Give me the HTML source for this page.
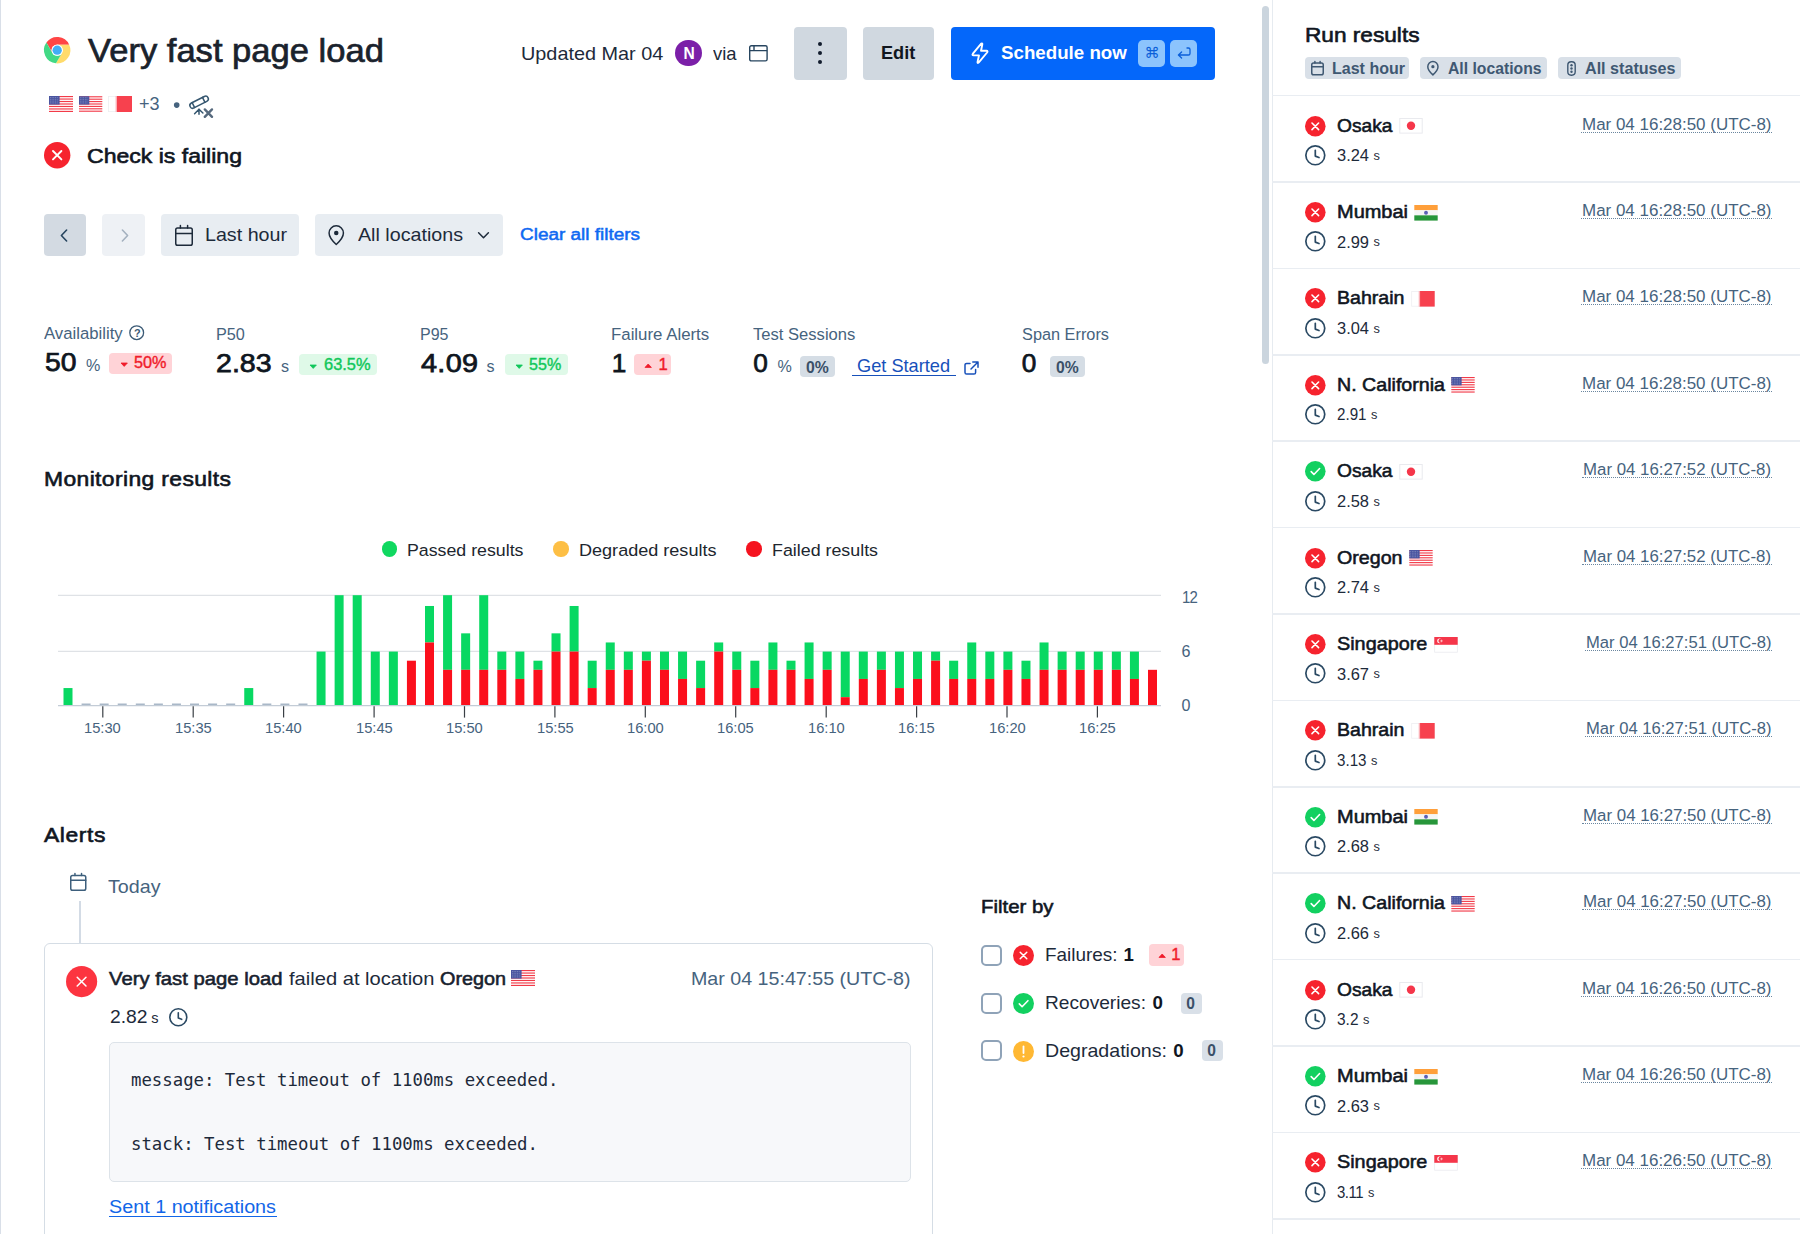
<!DOCTYPE html><html lang="en"><head><meta charset="utf-8"><title>Very fast page load - Synthetics</title><style>
*{box-sizing:border-box}
html,body{margin:0;padding:0}
body{width:1800px;height:1234px;overflow:hidden;background:#fff;position:relative;
 font-family:"Liberation Sans",Arial,sans-serif;color:#111c2c;}
.t{position:absolute;white-space:pre;line-height:1;transform-origin:0 50%;}
.abs{position:absolute}
svg{position:absolute;overflow:visible}
.btn{position:absolute;border-radius:4px}
.badge{position:absolute;border-radius:4px}
.sep{position:absolute;left:1272px;width:528px;height:1.6px;background:#e9edf2}
.u{text-decoration:underline}
</style></head><body>
<div class="abs" style="left:0;top:0;width:1.2px;height:1234px;background:#d9dfe8"></div>
<svg style="left:43.7px;top:36.9px" width="26.4" height="26.4" viewBox="-50 -50 100 100"><circle r="49" fill="#fff"/><path d="M-40.88 -28.8A50 50 0 0 1 45.38 -21L0 -21A21 21 0 0 0 -18.19 10.5Z" fill="#ff4545"/><path d="M45.38 -21A50 50 0 0 1 -4.5 49.8L18.19 10.5A21 21 0 0 0 0 -21Z" fill="#ffdb6b"/><path d="M-4.5 49.8A50 50 0 0 1 -40.88 -28.8L-18.19 10.5A21 21 0 0 0 18.19 10.5Z" fill="#42d985"/><circle r="21.5" fill="#fff"/><circle r="17.6" fill="#42adf5"/></svg>
<span class="t" style="left:87.5px;top:34.5px;font-size:32.45px;-webkit-text-stroke:0.68px #1a222c;color:#1a222c;transform:scaleX(1.0658);">Very fast page load</span>
<svg style="left:49.0px;top:96.0px" width="24" height="16" viewBox="0 0 24 16"><rect width="24" height="16" fill="#fff"/><rect y="0.000" width="24" height="1.15" fill="#f23a48"/><rect y="2.475" width="24" height="1.15" fill="#f23a48"/><rect y="4.950" width="24" height="1.15" fill="#f23a48"/><rect y="7.425" width="24" height="1.15" fill="#f23a48"/><rect y="9.900" width="24" height="1.15" fill="#f23a48"/><rect y="12.375" width="24" height="1.15" fill="#f23a48"/><rect y="14.850" width="24" height="1.15" fill="#f23a48"/><rect width="10.6" height="8.6" fill="#4a55a0"/><path d="M1 1.5h8.6M1 3.3h8.6M1 5.1h8.6M1 6.9h8.6" stroke="#9aa0cc" stroke-width=".7" stroke-dasharray=".8 .9"/></svg>
<svg style="left:78.8px;top:96.0px" width="23.3" height="16" viewBox="0 0 24 16"><rect width="24" height="16" fill="#fff"/><rect y="0.000" width="24" height="1.15" fill="#f23a48"/><rect y="2.475" width="24" height="1.15" fill="#f23a48"/><rect y="4.950" width="24" height="1.15" fill="#f23a48"/><rect y="7.425" width="24" height="1.15" fill="#f23a48"/><rect y="9.900" width="24" height="1.15" fill="#f23a48"/><rect y="12.375" width="24" height="1.15" fill="#f23a48"/><rect y="14.850" width="24" height="1.15" fill="#f23a48"/><rect width="10.6" height="8.6" fill="#4a55a0"/><path d="M1 1.5h8.6M1 3.3h8.6M1 5.1h8.6M1 6.9h8.6" stroke="#9aa0cc" stroke-width=".7" stroke-dasharray=".8 .9"/></svg>
<svg style="left:107.8px;top:96.0px" width="24" height="16" viewBox="0 0 24 16"><rect x=".4" y=".4" width="23.2" height="15.2" fill="#fff" stroke="#eeeef1" stroke-width=".8"/><rect x="8.6" width="15.4" height="16" fill="#f7414e"/><rect x="7.6" width="1.4" height="16" fill="#fbb0b6"/></svg>
<span class="t" style="left:138.7px;top:95.3px;font-size:18.2px;color:#46637e;transform:scaleX(0.9928);">+3</span>
<svg style="left:172px;top:100px" width="10" height="10" viewBox="0 0 10 10"><circle cx="4.7" cy="5.1" r="2.8" fill="#46637e"/></svg>
<svg style="left:188px;top:94px" width="26" height="25" viewBox="0 0 26 25" fill="none" stroke="#35566f" stroke-width="1.5" stroke-linecap="round" stroke-linejoin="round"><g transform="translate(11.1 8.2) rotate(-27)"><rect x="-10" y="-2.75" width="20" height="5.5" rx="2.75"/><path d="M5.2 -2.75V2.75M-6.4 -2.75V2.75"/></g><path d="M11 15.2V20.2M11 15.2L6.6 19.8M11 15.2L14.9 19"/><path d="M16.8 15.4l7.2 7.4M24 15.4l-7.2 7.4" stroke="#56697d" stroke-width="2.4"/></svg>
<svg style="left:43.7px;top:142.0px" width="26.4" height="26.4" viewBox="-13.2 -13.2 26.4 26.4"><circle cx="0" cy="0" r="13.2" fill="#f6232e"/><path d="M-4.2 -4.2L4.2 4.2M4.2 -4.2L-4.2 4.2" stroke="#fff" stroke-width="1.9" stroke-linecap="round"/></svg>
<span class="t" style="left:87.3px;top:144.8px;font-size:21.11px;-webkit-text-stroke:0.63px #10161f;color:#10161f;transform:scaleX(1.0918);">Check is failing</span>
<span class="t" style="left:520.9px;top:44.5px;font-size:18.72px;color:#1d2a3a;transform:scaleX(1.0602);">Updated Mar 04</span>
<div class="abs" style="left:675.1px;top:39.9px;width:26.6px;height:26.6px;border-radius:50%;background:#7b1fa8"></div>
<span class="t" style="left:683.4px;top:45.7px;font-size:15.6px;font-weight:700;color:#fff;">N</span>
<span class="t" style="left:713.3px;top:44.5px;font-size:18.72px;color:#1d2a3a;transform:scaleX(0.9865);">via</span>
<svg style="left:748.9px;top:45px" width="18.8" height="16.6" viewBox="0 0 18.8 16.6" fill="none" stroke="#27455f" stroke-width="1.4"><rect x=".7" y=".7" width="17.4" height="15.2" rx="1.6"/><path d="M.7 5.6H18.1M5 .7V5.6"/></svg>
<div class="btn" style="left:793.8px;top:26.7px;width:52.9px;height:52.9px;background:#d0d8e0"></div>
<div class="abs" style="left:818.1px;top:42.2px;width:4.2px;height:4.2px;border-radius:50%;background:#111c2c"></div>
<div class="abs" style="left:818.1px;top:51.0px;width:4.2px;height:4.2px;border-radius:50%;background:#111c2c"></div>
<div class="abs" style="left:818.1px;top:59.8px;width:4.2px;height:4.2px;border-radius:50%;background:#111c2c"></div>
<div class="btn" style="left:863.1px;top:26.7px;width:71.1px;height:52.9px;background:#d0d8e0"></div>
<span class="t" style="left:881.3px;top:44.4px;font-size:18.72px;font-weight:700;color:#10161f;transform:scaleX(0.9709);">Edit</span>
<div class="btn" style="left:951.1px;top:26.7px;width:263.6px;height:52.9px;background:#0467fa"></div>
<svg style="left:969.5px;top:42px" width="20" height="23" viewBox="0 0 20 23" fill="none" stroke="#fff" stroke-width="1.9" stroke-linejoin="round"><path d="M11.2 1.6Q12.6 .9 12.3 2.6L11 8.8H16.4Q18.2 9 17.1 10.5L8.6 20.6Q7.2 21.6 7.6 19.6L9 13.4H3.6Q1.8 13.2 2.9 11.7Z"/></svg>
<span class="t" style="left:1001.3px;top:44.1px;font-size:18.93px;font-weight:700;color:#fff;transform:scaleX(0.9888);">Schedule now</span>
<div class="badge" style="left:1138.2px;top:39.7px;width:27.1px;height:27.1px;border-radius:5px;background:#8cc4fd"></div>
<div class="badge" style="left:1170.3px;top:39.7px;width:27.1px;height:27.1px;border-radius:5px;background:#8cc4fd"></div>
<span class="t" style="left:1144.6px;top:46.4px;font-size:15.18px;color:#0b5fd9;font-family:'DejaVu Sans',sans-serif;">⌘</span>
<svg style="left:1176.8px;top:47.2px" width="14" height="12" viewBox="0 0 14 12" fill="none" stroke="#0b5fd9" stroke-width="1.3" stroke-linecap="round" stroke-linejoin="round"><path d="M10 1H11.4A1.6 1.6 0 0 1 13 2.6V6.4A1.6 1.6 0 0 1 11.4 8H1.6M4.6 5L1.4 8L4.6 11"/></svg>
<div class="btn" style="left:43.7px;top:214.2px;width:42.3px;height:42.1px;background:#d3dae2"></div>
<svg style="left:58.5px;top:227.5px" width="10" height="15" viewBox="0 0 10 15" fill="none" stroke="#27455f" stroke-width="1.6" stroke-linecap="round" stroke-linejoin="round"><path d="M7.6 2L2.4 7.5L7.6 13"/></svg>
<div class="btn" style="left:102.3px;top:214.2px;width:42.7px;height:42.1px;background:#eef1f5"></div>
<svg style="left:119.5px;top:227.5px" width="10" height="15" viewBox="0 0 10 15" fill="none" stroke="#a4b1bf" stroke-width="1.6" stroke-linecap="round" stroke-linejoin="round"><path d="M2.4 2L7.6 7.5L2.4 13"/></svg>
<div class="btn" style="left:161.2px;top:214.2px;width:138px;height:42.1px;background:#e8edf2"></div>
<svg style="left:174.5px;top:224.5px" width="18" height="21" viewBox="0 0 18 21" fill="none" stroke="#1d2a3a" stroke-width="1.5" stroke-linejoin="round" stroke-linecap="round"><rect x="0.75" y="2.94" width="16.5" height="17.31" rx="1.8"/><path d="M0.75 8.4H17.25M5.4 0.6V2.94M12.6 0.6V2.94"/></svg>
<span class="t" style="left:205.0px;top:225.8px;font-size:18.72px;color:#1d2a3a;transform:scaleX(1.0515);">Last hour</span>
<div class="btn" style="left:315.3px;top:214.2px;width:188.2px;height:42.1px;background:#e8edf2"></div>
<svg style="left:328.0px;top:225.0px" width="16.5" height="20.5" viewBox="0 0 16 20" fill="none" stroke="#1d2a3a" stroke-width="1.45455" stroke-linejoin="round"><path d="M8 19C8 19 15 12.6 15 7.8A7 7 0 0 0 1 7.8C1 12.6 8 19 8 19Z"/><circle cx="8" cy="7.8" r="2.2" fill="#1d2a3a" stroke="none"/></svg>
<span class="t" style="left:358.0px;top:225.8px;font-size:18.72px;color:#1d2a3a;transform:scaleX(1.0520);">All locations</span>
<svg style="left:477px;top:231px" width="13" height="9" viewBox="0 0 13 9" fill="none" stroke="#1d2a3a" stroke-width="1.5" stroke-linecap="round" stroke-linejoin="round"><path d="M1.6 1.8L6.5 6.8L11.4 1.8"/></svg>
<span class="t" style="left:520.0px;top:226.0px;font-size:17.26px;-webkit-text-stroke:0.52px #0f69f2;color:#0f69f2;transform:scaleX(1.0981);">Clear all filters</span>
<span class="t" style="left:44.1px;top:325.4px;font-size:16.12px;color:#46637e;transform:scaleX(1.0381);">Availability</span>
<svg style="left:129.3px;top:325.2px" width="15.4" height="15.4" viewBox="-7.7 -7.7 15.4 15.4"><circle r="6.9" fill="none" stroke="#3b5a75" stroke-width="1.3"/></svg>
<span class="t" style="left:134.1px;top:327.8px;font-size:10.92px;font-weight:700;color:#3b5a75;">?</span>
<span class="t" style="left:45.1px;top:348.9px;font-size:26.21px;color:#0f1620;transform:scaleX(1.0804);-webkit-text-stroke:.75px #0f1620;">50</span>
<span class="t" style="left:86.0px;top:357.4px;font-size:16.12px;color:#46637e;">%</span>
<div class="badge" style="left:109px;top:353px;width:63.3px;height:20.8px;background:#ffd3d7"></div>
<svg style="left:120.6px;top:363.4px" width="6.4" height="3.4" viewBox="0 0 6.4 3.4"><path d="M0 0 L6.4 0 L3.2 3.4 Z" fill="#f01c2b" stroke="#f01c2b" stroke-width=".8" stroke-linejoin="round"/></svg>
<span class="t" style="left:133.6px;top:355.2px;font-size:16.64px;color:#f01c2b;transform:scaleX(0.9765);-webkit-text-stroke:.4px #f01c2b;">50%</span>
<span class="t" style="left:215.6px;top:325.7px;font-size:16.12px;color:#46637e;transform:scaleX(1.0080);">P50</span>
<span class="t" style="left:216.0px;top:349.8px;font-size:26.21px;color:#0f1620;transform:scaleX(1.0902);-webkit-text-stroke:.75px #0f1620;">2.83</span>
<span class="t" style="left:281.0px;top:358.4px;font-size:16.12px;color:#46637e;">s</span>
<div class="badge" style="left:299px;top:354.2px;width:78px;height:20.9px;background:#dff9e8"></div>
<svg style="left:310.2px;top:364.6px" width="6.4" height="3.4" viewBox="0 0 6.4 3.4"><path d="M0 0 L6.4 0 L3.2 3.4 Z" fill="#10c75a" stroke="#10c75a" stroke-width=".8" stroke-linejoin="round"/></svg>
<span class="t" style="left:323.9px;top:356.5px;font-size:16.64px;color:#10c75a;transform:scaleX(0.9885);-webkit-text-stroke:.4px #10c75a;">63.5%</span>
<span class="t" style="left:420.4px;top:325.7px;font-size:16.12px;color:#46637e;transform:scaleX(0.9940);">P95</span>
<span class="t" style="left:420.7px;top:349.8px;font-size:26.21px;color:#0f1620;letter-spacing:0.303px;transform:scaleX(1.1000);-webkit-text-stroke:.75px #0f1620;">4.09</span>
<span class="t" style="left:486.5px;top:358.4px;font-size:16.12px;color:#46637e;">s</span>
<div class="badge" style="left:504.5px;top:354.2px;width:63.2px;height:20.9px;background:#dff9e8"></div>
<svg style="left:515.7px;top:364.6px" width="6.4" height="3.4" viewBox="0 0 6.4 3.4"><path d="M0 0 L6.4 0 L3.2 3.4 Z" fill="#10c75a" stroke="#10c75a" stroke-width=".8" stroke-linejoin="round"/></svg>
<span class="t" style="left:529.4px;top:356.5px;font-size:16.64px;color:#10c75a;transform:scaleX(0.9675);-webkit-text-stroke:.4px #10c75a;">55%</span>
<span class="t" style="left:610.7px;top:325.7px;font-size:16.12px;color:#46637e;transform:scaleX(1.0445);">Failure Alerts</span>
<span class="t" style="left:611.8px;top:349.8px;font-size:26.21px;color:#0f1620;-webkit-text-stroke:.75px #0f1620;">1</span>
<div class="badge" style="left:634.2px;top:354.2px;width:36.8px;height:20.9px;background:#ffd3d7"></div>
<svg style="left:645.3px;top:363.8px" width="6.4" height="3.4" viewBox="0 0 6.4 3.4"><path d="M0 3.4 L3.2 0 L6.4 3.4 Z" fill="#f01c2b" stroke="#f01c2b" stroke-width=".8" stroke-linejoin="round"/></svg>
<span class="t" style="left:658.4px;top:356.5px;font-size:16.64px;color:#f01c2b;-webkit-text-stroke:.4px #f01c2b;">1</span>
<span class="t" style="left:753.3px;top:325.7px;font-size:16.12px;color:#46637e;transform:scaleX(1.0293);">Test Sessions</span>
<span class="t" style="left:753.3px;top:349.8px;font-size:26.21px;color:#0f1620;-webkit-text-stroke:.75px #0f1620;">0</span>
<span class="t" style="left:777.5px;top:358.4px;font-size:16.12px;color:#46637e;">%</span>
<div class="badge" style="left:800.3px;top:356.3px;width:34.7px;height:20.3px;background:#d5dde5"></div>
<span class="t" style="left:806.4px;top:358.7px;font-size:16.12px;font-weight:700;color:#3a5068;transform:scaleX(0.9787);">0%</span>
<span class="t" style="left:857.4px;top:357.2px;font-size:18.72px;color:#1750ba;transform:scaleX(0.9733);">Get Started</span>
<div class="abs" style="left:851.6px;top:375.2px;width:104px;height:1.3px;background:#1750ba"></div>
<svg style="left:963.5px;top:360.5px" width="15" height="14" viewBox="0 0 15 14" fill="none" stroke="#1750ba" stroke-width="1.5" stroke-linecap="round" stroke-linejoin="round"><path d="M6 2.4H2.6A1.6 1.6 0 0 0 1 4V11.4A1.6 1.6 0 0 0 2.6 13H10A1.6 1.6 0 0 0 11.6 11.4V8.6M8.8 1H14V6.2M14 1L7 8"/></svg>
<span class="t" style="left:1021.7px;top:325.7px;font-size:16.12px;color:#46637e;transform:scaleX(1.0122);">Span Errors</span>
<span class="t" style="left:1021.7px;top:349.8px;font-size:26.21px;color:#0f1620;-webkit-text-stroke:.75px #0f1620;">0</span>
<div class="badge" style="left:1049.8px;top:356.3px;width:35.1px;height:20.3px;background:#d5dde5"></div>
<span class="t" style="left:1056.0px;top:358.7px;font-size:16.12px;font-weight:700;color:#3a5068;transform:scaleX(0.9744);">0%</span>
<span class="t" style="left:44.0px;top:468.6px;font-size:20.8px;-webkit-text-stroke:0.62px #10161f;color:#10161f;letter-spacing:0.345px;transform:scaleX(1.1000);">Monitoring results</span>
<div class="abs" style="left:381.8px;top:541.3px;width:15.4px;height:15.4px;border-radius:50%;background:#10d860"></div>
<div class="abs" style="left:553.3px;top:541.3px;width:15.4px;height:15.4px;border-radius:50%;background:#fdbf45"></div>
<div class="abs" style="left:746.3px;top:541.3px;width:15.4px;height:15.4px;border-radius:50%;background:#f5131f"></div>
<span class="t" style="left:407.0px;top:541.5px;font-size:17.16px;color:#20262e;transform:scaleX(1.0353);">Passed results</span>
<span class="t" style="left:578.6px;top:541.5px;font-size:17.16px;color:#20262e;transform:scaleX(1.0524);">Degraded results</span>
<span class="t" style="left:771.5px;top:541.5px;font-size:17.16px;color:#20262e;transform:scaleX(1.0389);">Failed results</span>
<svg style="left:0;top:560px" width="1260" height="200" viewBox="0 560 1260 200"><path d="M58 595.3H1161M58 651.3H1161" stroke="#dfe2e6" stroke-width="1.3"/><rect x="63.50" y="688.06" width="9.0" height="16.94" fill="#08d862"/><rect x="81.58" y="703.50" width="9.0" height="1.7" fill="#a9b8c8"/><rect x="99.65" y="703.50" width="9.0" height="1.7" fill="#a9b8c8"/><rect x="117.72" y="703.50" width="9.0" height="1.7" fill="#a9b8c8"/><rect x="135.80" y="703.50" width="9.0" height="1.7" fill="#a9b8c8"/><rect x="153.88" y="703.50" width="9.0" height="1.7" fill="#a9b8c8"/><rect x="171.95" y="703.50" width="9.0" height="1.7" fill="#a9b8c8"/><rect x="190.02" y="703.50" width="9.0" height="1.7" fill="#a9b8c8"/><rect x="208.10" y="703.50" width="9.0" height="1.7" fill="#a9b8c8"/><rect x="226.17" y="703.50" width="9.0" height="1.7" fill="#a9b8c8"/><rect x="244.25" y="688.06" width="9.0" height="16.94" fill="#08d862"/><rect x="262.32" y="703.50" width="9.0" height="1.7" fill="#a9b8c8"/><rect x="280.40" y="703.50" width="9.0" height="1.7" fill="#a9b8c8"/><rect x="298.48" y="703.50" width="9.0" height="1.7" fill="#a9b8c8"/><rect x="316.55" y="651.58" width="9.0" height="53.42" fill="#08d862"/><rect x="334.62" y="595.20" width="9.0" height="109.80" fill="#08d862"/><rect x="352.70" y="595.20" width="9.0" height="109.80" fill="#08d862"/><rect x="370.77" y="651.58" width="9.0" height="53.42" fill="#08d862"/><rect x="388.85" y="651.58" width="9.0" height="53.42" fill="#08d862"/><rect x="406.93" y="660.70" width="9.0" height="44.30" fill="#fb0f1c"/><rect x="425.00" y="605.98" width="9.0" height="36.48" fill="#08d862"/><rect x="425.00" y="642.46" width="9.0" height="62.54" fill="#fb0f1c"/><rect x="443.07" y="595.20" width="9.0" height="74.62" fill="#08d862"/><rect x="443.07" y="669.82" width="9.0" height="35.18" fill="#fb0f1c"/><rect x="461.15" y="633.34" width="9.0" height="36.48" fill="#08d862"/><rect x="461.15" y="669.82" width="9.0" height="35.18" fill="#fb0f1c"/><rect x="479.22" y="595.20" width="9.0" height="74.62" fill="#08d862"/><rect x="479.22" y="669.82" width="9.0" height="35.18" fill="#fb0f1c"/><rect x="497.30" y="651.58" width="9.0" height="18.24" fill="#08d862"/><rect x="497.30" y="669.82" width="9.0" height="35.18" fill="#fb0f1c"/><rect x="515.38" y="651.58" width="9.0" height="27.36" fill="#08d862"/><rect x="515.38" y="678.94" width="9.0" height="26.06" fill="#fb0f1c"/><rect x="533.45" y="660.70" width="9.0" height="9.12" fill="#08d862"/><rect x="533.45" y="669.82" width="9.0" height="35.18" fill="#fb0f1c"/><rect x="551.52" y="633.34" width="9.0" height="18.24" fill="#08d862"/><rect x="551.52" y="651.58" width="9.0" height="53.42" fill="#fb0f1c"/><rect x="569.60" y="605.98" width="9.0" height="45.60" fill="#08d862"/><rect x="569.60" y="651.58" width="9.0" height="53.42" fill="#fb0f1c"/><rect x="587.67" y="660.70" width="9.0" height="27.36" fill="#08d862"/><rect x="587.67" y="688.06" width="9.0" height="16.94" fill="#fb0f1c"/><rect x="605.75" y="642.46" width="9.0" height="27.36" fill="#08d862"/><rect x="605.75" y="669.82" width="9.0" height="35.18" fill="#fb0f1c"/><rect x="623.82" y="651.58" width="9.0" height="18.24" fill="#08d862"/><rect x="623.82" y="669.82" width="9.0" height="35.18" fill="#fb0f1c"/><rect x="641.90" y="651.58" width="9.0" height="9.12" fill="#08d862"/><rect x="641.90" y="660.70" width="9.0" height="44.30" fill="#fb0f1c"/><rect x="659.98" y="651.58" width="9.0" height="18.24" fill="#08d862"/><rect x="659.98" y="669.82" width="9.0" height="35.18" fill="#fb0f1c"/><rect x="678.05" y="651.58" width="9.0" height="27.36" fill="#08d862"/><rect x="678.05" y="678.94" width="9.0" height="26.06" fill="#fb0f1c"/><rect x="696.12" y="660.70" width="9.0" height="27.36" fill="#08d862"/><rect x="696.12" y="688.06" width="9.0" height="16.94" fill="#fb0f1c"/><rect x="714.20" y="642.46" width="9.0" height="9.12" fill="#08d862"/><rect x="714.20" y="651.58" width="9.0" height="53.42" fill="#fb0f1c"/><rect x="732.27" y="651.58" width="9.0" height="18.24" fill="#08d862"/><rect x="732.27" y="669.82" width="9.0" height="35.18" fill="#fb0f1c"/><rect x="750.35" y="660.70" width="9.0" height="27.36" fill="#08d862"/><rect x="750.35" y="688.06" width="9.0" height="16.94" fill="#fb0f1c"/><rect x="768.42" y="642.46" width="9.0" height="27.36" fill="#08d862"/><rect x="768.42" y="669.82" width="9.0" height="35.18" fill="#fb0f1c"/><rect x="786.50" y="660.70" width="9.0" height="9.12" fill="#08d862"/><rect x="786.50" y="669.82" width="9.0" height="35.18" fill="#fb0f1c"/><rect x="804.57" y="642.46" width="9.0" height="36.48" fill="#08d862"/><rect x="804.57" y="678.94" width="9.0" height="26.06" fill="#fb0f1c"/><rect x="822.65" y="651.58" width="9.0" height="18.24" fill="#08d862"/><rect x="822.65" y="669.82" width="9.0" height="35.18" fill="#fb0f1c"/><rect x="840.73" y="651.58" width="9.0" height="45.60" fill="#08d862"/><rect x="840.73" y="697.18" width="9.0" height="7.82" fill="#fb0f1c"/><rect x="858.80" y="651.58" width="9.0" height="27.36" fill="#08d862"/><rect x="858.80" y="678.94" width="9.0" height="26.06" fill="#fb0f1c"/><rect x="876.88" y="651.58" width="9.0" height="18.24" fill="#08d862"/><rect x="876.88" y="669.82" width="9.0" height="35.18" fill="#fb0f1c"/><rect x="894.95" y="651.58" width="9.0" height="36.48" fill="#08d862"/><rect x="894.95" y="688.06" width="9.0" height="16.94" fill="#fb0f1c"/><rect x="913.02" y="651.58" width="9.0" height="27.36" fill="#08d862"/><rect x="913.02" y="678.94" width="9.0" height="26.06" fill="#fb0f1c"/><rect x="931.10" y="651.58" width="9.0" height="9.12" fill="#08d862"/><rect x="931.10" y="660.70" width="9.0" height="44.30" fill="#fb0f1c"/><rect x="949.17" y="660.70" width="9.0" height="18.24" fill="#08d862"/><rect x="949.17" y="678.94" width="9.0" height="26.06" fill="#fb0f1c"/><rect x="967.25" y="642.46" width="9.0" height="36.48" fill="#08d862"/><rect x="967.25" y="678.94" width="9.0" height="26.06" fill="#fb0f1c"/><rect x="985.32" y="651.58" width="9.0" height="27.36" fill="#08d862"/><rect x="985.32" y="678.94" width="9.0" height="26.06" fill="#fb0f1c"/><rect x="1003.40" y="651.58" width="9.0" height="18.24" fill="#08d862"/><rect x="1003.40" y="669.82" width="9.0" height="35.18" fill="#fb0f1c"/><rect x="1021.47" y="660.70" width="9.0" height="18.24" fill="#08d862"/><rect x="1021.47" y="678.94" width="9.0" height="26.06" fill="#fb0f1c"/><rect x="1039.55" y="642.46" width="9.0" height="27.36" fill="#08d862"/><rect x="1039.55" y="669.82" width="9.0" height="35.18" fill="#fb0f1c"/><rect x="1057.62" y="651.58" width="9.0" height="18.24" fill="#08d862"/><rect x="1057.62" y="669.82" width="9.0" height="35.18" fill="#fb0f1c"/><rect x="1075.70" y="651.58" width="9.0" height="18.24" fill="#08d862"/><rect x="1075.70" y="669.82" width="9.0" height="35.18" fill="#fb0f1c"/><rect x="1093.77" y="651.58" width="9.0" height="18.24" fill="#08d862"/><rect x="1093.77" y="669.82" width="9.0" height="35.18" fill="#fb0f1c"/><rect x="1111.85" y="651.58" width="9.0" height="18.24" fill="#08d862"/><rect x="1111.85" y="669.82" width="9.0" height="35.18" fill="#fb0f1c"/><rect x="1129.92" y="651.58" width="9.0" height="27.36" fill="#08d862"/><rect x="1129.92" y="678.94" width="9.0" height="26.06" fill="#fb0f1c"/><rect x="1148.00" y="669.82" width="9.0" height="35.18" fill="#fb0f1c"/><path d="M58 705.6H1161" stroke="#c3ccd6" stroke-width="1.2"/><path d="M102.8 706.2V717.6" stroke="#3a3f45" stroke-width="1.2"/><path d="M193.2 706.2V717.6" stroke="#3a3f45" stroke-width="1.2"/><path d="M283.6 706.2V717.6" stroke="#3a3f45" stroke-width="1.2"/><path d="M374.1 706.2V717.6" stroke="#3a3f45" stroke-width="1.2"/><path d="M464.5 706.2V717.6" stroke="#3a3f45" stroke-width="1.2"/><path d="M554.9 706.2V717.6" stroke="#3a3f45" stroke-width="1.2"/><path d="M645.3 706.2V717.6" stroke="#3a3f45" stroke-width="1.2"/><path d="M735.7 706.2V717.6" stroke="#3a3f45" stroke-width="1.2"/><path d="M826.2 706.2V717.6" stroke="#3a3f45" stroke-width="1.2"/><path d="M916.6 706.2V717.6" stroke="#3a3f45" stroke-width="1.2"/><path d="M1007.0 706.2V717.6" stroke="#3a3f45" stroke-width="1.2"/><path d="M1097.4 706.2V717.6" stroke="#3a3f45" stroke-width="1.2"/></svg>
<span class="t" style="left:84.4px;top:720.6px;font-size:14.87px;color:#46637e;transform:scaleX(0.9896);">15:30</span>
<span class="t" style="left:174.8px;top:720.6px;font-size:14.87px;color:#46637e;transform:scaleX(0.9896);">15:35</span>
<span class="t" style="left:265.2px;top:720.6px;font-size:14.87px;color:#46637e;transform:scaleX(0.9896);">15:40</span>
<span class="t" style="left:355.7px;top:720.6px;font-size:14.87px;color:#46637e;transform:scaleX(0.9896);">15:45</span>
<span class="t" style="left:446.1px;top:720.6px;font-size:14.87px;color:#46637e;transform:scaleX(0.9896);">15:50</span>
<span class="t" style="left:536.5px;top:720.6px;font-size:14.87px;color:#46637e;transform:scaleX(0.9896);">15:55</span>
<span class="t" style="left:626.9px;top:720.6px;font-size:14.87px;color:#46637e;transform:scaleX(0.9896);">16:00</span>
<span class="t" style="left:717.3px;top:720.6px;font-size:14.87px;color:#46637e;transform:scaleX(0.9896);">16:05</span>
<span class="t" style="left:807.8px;top:720.6px;font-size:14.87px;color:#46637e;transform:scaleX(0.9896);">16:10</span>
<span class="t" style="left:898.2px;top:720.6px;font-size:14.87px;color:#46637e;transform:scaleX(0.9896);">16:15</span>
<span class="t" style="left:988.6px;top:720.6px;font-size:14.87px;color:#46637e;transform:scaleX(0.9896);">16:20</span>
<span class="t" style="left:1079.0px;top:720.6px;font-size:14.87px;color:#46637e;transform:scaleX(0.9896);">16:25</span>
<span class="t" style="left:1181.6px;top:588.7px;font-size:16.12px;color:#46637e;letter-spacing:-0.933px;transform:scaleX(0.9300);">12</span>
<span class="t" style="left:1181.6px;top:643.2px;font-size:16.12px;color:#46637e;">6</span>
<span class="t" style="left:1181.6px;top:697.2px;font-size:16.12px;color:#46637e;">0</span>
<span class="t" style="left:44.0px;top:825.0px;font-size:20.8px;-webkit-text-stroke:0.62px #10161f;color:#10161f;letter-spacing:0.547px;transform:scaleX(1.1000);">Alerts</span>
<svg style="left:70.0px;top:873.2px" width="16.5" height="18" viewBox="0 0 16.5 18" fill="none" stroke="#3d5f7c" stroke-width="1.5" stroke-linejoin="round" stroke-linecap="round"><rect x="0.75" y="2.52" width="15" height="14.73" rx="1.8"/><path d="M0.75 7.2H15.75M4.95 0.6V2.52M11.55 0.6V2.52"/></svg>
<span class="t" style="left:108.3px;top:877.5px;font-size:18.72px;color:#46637e;transform:scaleX(1.0516);">Today</span>
<div class="abs" style="left:78.6px;top:901px;width:2px;height:42px;background:#d3dbe5"></div>
<div class="abs" style="left:43.7px;top:942.8px;width:889px;height:320px;border:1.3px solid #d5dde5;border-radius:6px;background:#fff"></div>
<svg style="left:65.5px;top:965.7px" width="31.2" height="31.2" viewBox="-15.6 -15.6 31.2 31.2"><circle cx="0" cy="0" r="15.6" fill="#fc3440"/><path d="M-4.4 -4.4L4.4 4.4M4.4 -4.4L-4.4 4.4" stroke="#fff" stroke-width="1.5" stroke-linecap="round"/></svg>
<span class="t" style="left:109.2px;top:970.3px;font-size:18.51px;-webkit-text-stroke:0.56px #17212e;color:#17212e;transform:scaleX(1.0954);">Very fast page load</span>
<span class="t" style="left:288.5px;top:970.2px;font-size:18.72px;color:#1d2a3a;transform:scaleX(1.0764);">failed at location</span>
<span class="t" style="left:439.6px;top:970.3px;font-size:18.51px;-webkit-text-stroke:0.56px #17212e;color:#17212e;transform:scaleX(1.0694);">Oregon</span>
<svg style="left:511.0px;top:969.6px" width="24" height="16" viewBox="0 0 24 16"><rect width="24" height="16" fill="#fff"/><rect y="0.000" width="24" height="1.15" fill="#f23a48"/><rect y="2.475" width="24" height="1.15" fill="#f23a48"/><rect y="4.950" width="24" height="1.15" fill="#f23a48"/><rect y="7.425" width="24" height="1.15" fill="#f23a48"/><rect y="9.900" width="24" height="1.15" fill="#f23a48"/><rect y="12.375" width="24" height="1.15" fill="#f23a48"/><rect y="14.850" width="24" height="1.15" fill="#f23a48"/><rect width="10.6" height="8.6" fill="#4a55a0"/><path d="M1 1.5h8.6M1 3.3h8.6M1 5.1h8.6M1 6.9h8.6" stroke="#9aa0cc" stroke-width=".7" stroke-dasharray=".8 .9"/></svg>
<span class="t" style="left:690.5px;top:970.0px;font-size:18.72px;color:#46637e;transform:scaleX(1.0506);">Mar 04 15:47:55 (UTC-8)</span>
<span class="t" style="left:109.5px;top:1007.5px;font-size:18.72px;color:#1d2a3a;transform:scaleX(1.0300);">2.82</span>
<span class="t" style="left:151.2px;top:1011.0px;font-size:14.56px;color:#1d2a3a;">s</span>
<svg style="left:168.7px;top:1008.0px" width="18.6" height="18.6" viewBox="-9.3 -9.3 18.6 18.6"><circle cx="0" cy="0" r="8.5" fill="none" stroke="#2a4963" stroke-width="1.6"/><path d="M0 -4.464V0.744L3.348 2.046" fill="none" stroke="#2a4963" stroke-width="1.6" stroke-linecap="round" stroke-linejoin="round"/></svg>
<div class="abs" style="left:109px;top:1042px;width:802.3px;height:140.3px;border:1.2px solid #dde3e9;border-radius:5px;background:#f7f8fa"></div>
<span class="t" style="left:131.3px;top:1072.0px;font-size:17.2px;color:#1d2a3a;font-family:'DejaVu Sans Mono','Liberation Mono',monospace;transform:scaleX(1.0076);">message: Test timeout of 1100ms exceeded.</span>
<span class="t" style="left:131.3px;top:1136.0px;font-size:17.2px;color:#1d2a3a;font-family:'DejaVu Sans Mono','Liberation Mono',monospace;transform:scaleX(1.0085);">stack: Test timeout of 1100ms exceeded.</span>
<span class="t" style="left:109.2px;top:1196.9px;font-size:19.03px;color:#1266e8;transform:scaleX(1.0393);">Sent 1 notifications</span>
<div class="abs" style="left:109px;top:1215.6px;width:167.5px;height:1.4px;background:#1266e8"></div>
<span class="t" style="left:981.3px;top:897.8px;font-size:18.51px;-webkit-text-stroke:0.56px #10161f;color:#10161f;letter-spacing:0.014px;transform:scaleX(1.1000);">Filter by</span>
<div class="abs" style="left:981.0px;top:944.6px;width:21px;height:21px;border:2px solid #8fa3b8;border-radius:5px;background:#fff"></div>
<svg style="left:1013.0px;top:944.7px" width="21.0" height="21.0" viewBox="-10.5 -10.5 21 21"><circle cx="0" cy="0" r="10.5" fill="#f6232e"/><path d="M-3.3 -3.3L3.3 3.3M3.3 -3.3L-3.3 3.3" stroke="#fff" stroke-width="1.5" stroke-linecap="round"/></svg>
<span class="t" style="left:1045.3px;top:945.7px;font-size:18.72px;color:#1d2a3a;transform:scaleX(1.0109);">Failures:</span>
<span class="t" style="left:1123.5px;top:945.7px;font-size:18.72px;font-weight:700;color:#10161f;">1</span>
<div class="badge" style="left:1148.6px;top:944.3px;width:35px;height:21.6px;background:#ffd3d7"></div>
<svg style="left:1158.8px;top:953.8px" width="6.4" height="3.4" viewBox="0 0 6.4 3.4"><path d="M0 3.4 L3.2 0 L6.4 3.4 Z" fill="#f01c2b" stroke="#f01c2b" stroke-width=".8" stroke-linejoin="round"/></svg>
<span class="t" style="left:1171.2px;top:947.2px;font-size:16.64px;color:#f01c2b;-webkit-text-stroke:.4px #f01c2b;">1</span>
<div class="abs" style="left:981.0px;top:992.6px;width:21px;height:21px;border:2px solid #8fa3b8;border-radius:5px;background:#fff"></div>
<svg style="left:1013.0px;top:992.7px" width="21.0" height="21.0" viewBox="-10.5 -10.5 21 21"><circle cx="0" cy="0" r="10.5" fill="#12d060"/><path d="M-4.2 0.4L-1.4 3.2L4.4 -2.8" fill="none" stroke="#fff" stroke-width="1.6" stroke-linecap="round" stroke-linejoin="round"/></svg>
<span class="t" style="left:1045.3px;top:993.7px;font-size:18.72px;color:#1d2a3a;transform:scaleX(1.0228);">Recoveries:</span>
<span class="t" style="left:1152.5px;top:993.7px;font-size:18.72px;font-weight:700;color:#10161f;">0</span>
<div class="badge" style="left:1180.8px;top:992.6px;width:21.2px;height:21px;background:#d9e0e8"></div>
<span class="t" style="left:1186.2px;top:995.6px;font-size:15.6px;font-weight:700;color:#3b5068;">0</span>
<div class="abs" style="left:981.0px;top:1040.4px;width:21px;height:21px;border:2px solid #8fa3b8;border-radius:5px;background:#fff"></div>
<svg style="left:1012.5px;top:1040.5px" width="21.0" height="21.0" viewBox="-10.5 -10.5 21 21"><circle cx="0" cy="0" r="10.5" fill="#ffb833"/><path d="M0 -5L0 1.5" stroke="#fff" stroke-width="1.8" stroke-linecap="round"/><circle cx="0" cy="5" r="1.1" fill="#fff"/></svg>
<span class="t" style="left:1045.0px;top:1041.5px;font-size:18.72px;color:#1d2a3a;transform:scaleX(1.0476);">Degradations:</span>
<span class="t" style="left:1173.3px;top:1041.5px;font-size:18.72px;font-weight:700;color:#10161f;">0</span>
<div class="badge" style="left:1201.8px;top:1040.4px;width:21.2px;height:21px;background:#d9e0e8"></div>
<span class="t" style="left:1207.2px;top:1043.4px;font-size:15.6px;font-weight:700;color:#3b5068;">0</span>
<div class="abs" style="left:1262px;top:6px;width:7px;height:358px;border-radius:4px;background:#cbd5de"></div>
<div class="abs" style="left:1271.7px;top:0;width:1.2px;height:1234px;background:#e6ebf0"></div>
<span class="t" style="left:1305.0px;top:25.2px;font-size:20.8px;-webkit-text-stroke:0.62px #10161f;color:#10161f;transform:scaleX(1.0885);">Run results</span>
<div class="badge" style="left:1305.0px;top:57.2px;width:104.0px;height:21.7px;background:#d9e0e8"></div>
<span class="t" style="left:1331.5px;top:59.9px;font-size:16.22px;font-weight:700;color:#3f5872;transform:scaleX(0.9888);">Last hour</span>
<div class="badge" style="left:1420.2px;top:57.2px;width:126.5px;height:21.7px;background:#d9e0e8"></div>
<span class="t" style="left:1447.6px;top:59.9px;font-size:16.22px;font-weight:700;color:#3f5872;transform:scaleX(0.9705);">All locations</span>
<div class="badge" style="left:1558.0px;top:57.2px;width:122.5px;height:21.7px;background:#d9e0e8"></div>
<span class="t" style="left:1585.0px;top:59.9px;font-size:16.22px;font-weight:700;color:#3f5872;transform:scaleX(0.9950);">All statuses</span>
<svg style="left:1311.3px;top:60.6px" width="13" height="14.6" viewBox="0 0 13 14.6" fill="none" stroke="#3f5872" stroke-width="1.5" stroke-linejoin="round" stroke-linecap="round"><rect x="0.75" y="2.044" width="11.5" height="11.806" rx="1.8"/><path d="M0.75 5.84H12.25M3.9 0.6V2.044M9.1 0.6V2.044"/></svg>
<svg style="left:1427.0px;top:61.0px" width="11.8" height="14.6" viewBox="0 0 16 20" fill="none" stroke="#3f5872" stroke-width="2.0339" stroke-linejoin="round"><path d="M8 19C8 19 15 12.6 15 7.8A7 7 0 0 0 1 7.8C1 12.6 8 19 8 19Z"/><circle cx="8" cy="7.8" r="2.2" fill="#3f5872" stroke="none"/></svg>
<svg style="left:1566.5px;top:60.6px" width="9" height="15" viewBox="0 0 9 15" fill="none" stroke="#3f5872" stroke-width="1.4"><rect x=".8" y=".8" width="7.4" height="13.4" rx="3.4"/><circle cx="4.5" cy="4.3" r="1.2" fill="#3f5872" stroke="none"/><circle cx="4.5" cy="7.5" r="1.2" fill="#3f5872" stroke="none"/><circle cx="4.5" cy="10.7" r="1.2" fill="#3f5872" stroke="none"/></svg>
<div class="sep" style="top:94.8px"></div>
<div class="sep" style="top:181.2px"></div>
<div class="sep" style="top:267.6px"></div>
<div class="sep" style="top:354.0px"></div>
<div class="sep" style="top:440.4px"></div>
<div class="sep" style="top:526.8px"></div>
<div class="sep" style="top:613.2px"></div>
<div class="sep" style="top:699.6px"></div>
<div class="sep" style="top:786.0px"></div>
<div class="sep" style="top:872.4px"></div>
<div class="sep" style="top:958.8px"></div>
<div class="sep" style="top:1045.2px"></div>
<div class="sep" style="top:1131.6px"></div>
<div class="sep" style="top:1218.0px"></div>
<div class="sep" style="top:1304.4px"></div>
<svg style="left:1304.9px;top:115.6px" width="20.6" height="20.6" viewBox="-10.3 -10.3 20.6 20.6"><circle cx="0" cy="0" r="10.3" fill="#f6232e"/><path d="M-3.3 -3.3L3.3 3.3M3.3 -3.3L-3.3 3.3" stroke="#fff" stroke-width="1.6" stroke-linecap="round"/></svg>
<span class="t" style="left:1337.0px;top:116.5px;font-size:18.51px;-webkit-text-stroke:0.56px #10161f;color:#10161f;transform:scaleX(1.0380);">Osaka</span>
<svg style="left:1398.8px;top:118.1px" width="24" height="15.6" viewBox="0 0 24 16"><rect x=".5" y=".5" width="23" height="15" fill="#fff" stroke="#e9eaee"/><circle cx="12" cy="8" r="4.3" fill="#f5364a"/></svg>
<svg style="left:1304.9px;top:145.0px" width="20.6" height="20.6" viewBox="-10.3 -10.3 20.6 20.6"><circle cx="0" cy="0" r="9.45" fill="none" stroke="#2a4963" stroke-width="1.7"/><path d="M0 -4.944V0.824L3.708 2.266" fill="none" stroke="#2a4963" stroke-width="1.7" stroke-linecap="round" stroke-linejoin="round"/></svg>
<span class="t" style="left:1337.3px;top:147.1px;font-size:16.12px;color:#1d2a3a;transform:scaleX(1.0204);">3.24</span>
<span class="t" style="left:1373.5px;top:149.9px;font-size:12.79px;color:#1d2a3a;">s</span>
<span class="t" style="left:1581.5px;top:115.6px;font-size:16.12px;color:#46637e;transform:scaleX(1.0530);">Mar 04 16:28:50 (UTC-8)</span>
<div class="abs" style="left:1580.7px;top:131.6px;width:191.1px;height:0;border-top:1.7px dotted #6a869f"></div>
<svg style="left:1304.9px;top:202.0px" width="20.6" height="20.6" viewBox="-10.3 -10.3 20.6 20.6"><circle cx="0" cy="0" r="10.3" fill="#f6232e"/><path d="M-3.3 -3.3L3.3 3.3M3.3 -3.3L-3.3 3.3" stroke="#fff" stroke-width="1.6" stroke-linecap="round"/></svg>
<span class="t" style="left:1337.0px;top:202.9px;font-size:18.51px;-webkit-text-stroke:0.56px #10161f;color:#10161f;transform:scaleX(1.0788);">Mumbai</span>
<svg style="left:1414.3px;top:204.5px" width="24" height="15.6" viewBox="0 0 24 16"><rect width="24" height="5.4" fill="#ff9f3a"/><rect y="5.4" width="24" height="5.2" fill="#f5f5f5"/><rect y="10.6" width="24" height="5.4" fill="#27963a"/><circle cx="12" cy="8" r="2" fill="#5a5fb5"/></svg>
<svg style="left:1304.9px;top:231.4px" width="20.6" height="20.6" viewBox="-10.3 -10.3 20.6 20.6"><circle cx="0" cy="0" r="9.45" fill="none" stroke="#2a4963" stroke-width="1.7"/><path d="M0 -4.944V0.824L3.708 2.266" fill="none" stroke="#2a4963" stroke-width="1.7" stroke-linecap="round" stroke-linejoin="round"/></svg>
<span class="t" style="left:1337.3px;top:233.5px;font-size:16.12px;color:#1d2a3a;transform:scaleX(1.0204);">2.99</span>
<span class="t" style="left:1373.5px;top:236.3px;font-size:12.79px;color:#1d2a3a;">s</span>
<span class="t" style="left:1581.5px;top:202.0px;font-size:16.12px;color:#46637e;transform:scaleX(1.0530);">Mar 04 16:28:50 (UTC-8)</span>
<div class="abs" style="left:1580.7px;top:218.0px;width:191.1px;height:0;border-top:1.7px dotted #6a869f"></div>
<svg style="left:1304.9px;top:288.4px" width="20.6" height="20.6" viewBox="-10.3 -10.3 20.6 20.6"><circle cx="0" cy="0" r="10.3" fill="#f6232e"/><path d="M-3.3 -3.3L3.3 3.3M3.3 -3.3L-3.3 3.3" stroke="#fff" stroke-width="1.6" stroke-linecap="round"/></svg>
<span class="t" style="left:1337.0px;top:289.3px;font-size:18.51px;-webkit-text-stroke:0.56px #10161f;color:#10161f;transform:scaleX(1.0586);">Bahrain</span>
<svg style="left:1410.8px;top:290.9px" width="24" height="15.6" viewBox="0 0 24 16"><rect x=".4" y=".4" width="23.2" height="15.2" fill="#fff" stroke="#eeeef1" stroke-width=".8"/><rect x="8.6" width="15.4" height="16" fill="#f7414e"/><rect x="7.6" width="1.4" height="16" fill="#fbb0b6"/></svg>
<svg style="left:1304.9px;top:317.8px" width="20.6" height="20.6" viewBox="-10.3 -10.3 20.6 20.6"><circle cx="0" cy="0" r="9.45" fill="none" stroke="#2a4963" stroke-width="1.7"/><path d="M0 -4.944V0.824L3.708 2.266" fill="none" stroke="#2a4963" stroke-width="1.7" stroke-linecap="round" stroke-linejoin="round"/></svg>
<span class="t" style="left:1337.3px;top:319.9px;font-size:16.12px;color:#1d2a3a;transform:scaleX(1.0204);">3.04</span>
<span class="t" style="left:1373.5px;top:322.7px;font-size:12.79px;color:#1d2a3a;">s</span>
<span class="t" style="left:1581.5px;top:288.4px;font-size:16.12px;color:#46637e;transform:scaleX(1.0530);">Mar 04 16:28:50 (UTC-8)</span>
<div class="abs" style="left:1580.7px;top:304.4px;width:191.1px;height:0;border-top:1.7px dotted #6a869f"></div>
<svg style="left:1304.9px;top:374.8px" width="20.6" height="20.6" viewBox="-10.3 -10.3 20.6 20.6"><circle cx="0" cy="0" r="10.3" fill="#f6232e"/><path d="M-3.3 -3.3L3.3 3.3M3.3 -3.3L-3.3 3.3" stroke="#fff" stroke-width="1.6" stroke-linecap="round"/></svg>
<span class="t" style="left:1337.0px;top:375.7px;font-size:18.51px;-webkit-text-stroke:0.56px #10161f;color:#10161f;transform:scaleX(1.0609);">N. California</span>
<svg style="left:1451.3px;top:377.3px" width="24" height="15.6" viewBox="0 0 24 16"><rect width="24" height="16" fill="#fff"/><rect y="0.000" width="24" height="1.15" fill="#f23a48"/><rect y="2.475" width="24" height="1.15" fill="#f23a48"/><rect y="4.950" width="24" height="1.15" fill="#f23a48"/><rect y="7.425" width="24" height="1.15" fill="#f23a48"/><rect y="9.900" width="24" height="1.15" fill="#f23a48"/><rect y="12.375" width="24" height="1.15" fill="#f23a48"/><rect y="14.850" width="24" height="1.15" fill="#f23a48"/><rect width="10.6" height="8.6" fill="#4a55a0"/><path d="M1 1.5h8.6M1 3.3h8.6M1 5.1h8.6M1 6.9h8.6" stroke="#9aa0cc" stroke-width=".7" stroke-dasharray=".8 .9"/></svg>
<svg style="left:1304.9px;top:404.2px" width="20.6" height="20.6" viewBox="-10.3 -10.3 20.6 20.6"><circle cx="0" cy="0" r="9.45" fill="none" stroke="#2a4963" stroke-width="1.7"/><path d="M0 -4.944V0.824L3.708 2.266" fill="none" stroke="#2a4963" stroke-width="1.7" stroke-linecap="round" stroke-linejoin="round"/></svg>
<span class="t" style="left:1337.3px;top:406.3px;font-size:16.12px;color:#1d2a3a;transform:scaleX(0.9407);">2.91</span>
<span class="t" style="left:1371.0px;top:409.1px;font-size:12.79px;color:#1d2a3a;">s</span>
<span class="t" style="left:1581.5px;top:374.8px;font-size:16.12px;color:#46637e;transform:scaleX(1.0530);">Mar 04 16:28:50 (UTC-8)</span>
<div class="abs" style="left:1580.7px;top:390.8px;width:191.1px;height:0;border-top:1.7px dotted #6a869f"></div>
<svg style="left:1304.9px;top:461.2px" width="20.6" height="20.6" viewBox="-10.3 -10.3 20.6 20.6"><circle cx="0" cy="0" r="10.3" fill="#12d060"/><path d="M-4.12 0.392381L-1.37333 3.13905L4.31619 -2.74667" fill="none" stroke="#fff" stroke-width="1.6" stroke-linecap="round" stroke-linejoin="round"/></svg>
<span class="t" style="left:1337.0px;top:462.1px;font-size:18.51px;-webkit-text-stroke:0.56px #10161f;color:#10161f;transform:scaleX(1.0380);">Osaka</span>
<svg style="left:1398.8px;top:463.7px" width="24" height="15.6" viewBox="0 0 24 16"><rect x=".5" y=".5" width="23" height="15" fill="#fff" stroke="#e9eaee"/><circle cx="12" cy="8" r="4.3" fill="#f5364a"/></svg>
<svg style="left:1304.9px;top:490.6px" width="20.6" height="20.6" viewBox="-10.3 -10.3 20.6 20.6"><circle cx="0" cy="0" r="9.45" fill="none" stroke="#2a4963" stroke-width="1.7"/><path d="M0 -4.944V0.824L3.708 2.266" fill="none" stroke="#2a4963" stroke-width="1.7" stroke-linecap="round" stroke-linejoin="round"/></svg>
<span class="t" style="left:1337.3px;top:492.7px;font-size:16.12px;color:#1d2a3a;transform:scaleX(1.0204);">2.58</span>
<span class="t" style="left:1373.5px;top:495.5px;font-size:12.79px;color:#1d2a3a;">s</span>
<span class="t" style="left:1583.0px;top:461.2px;font-size:16.12px;color:#46637e;transform:scaleX(1.0446);">Mar 04 16:27:52 (UTC-8)</span>
<div class="abs" style="left:1582.2px;top:477.2px;width:189.6px;height:0;border-top:1.7px dotted #6a869f"></div>
<svg style="left:1304.9px;top:547.6px" width="20.6" height="20.6" viewBox="-10.3 -10.3 20.6 20.6"><circle cx="0" cy="0" r="10.3" fill="#f6232e"/><path d="M-3.3 -3.3L3.3 3.3M3.3 -3.3L-3.3 3.3" stroke="#fff" stroke-width="1.6" stroke-linecap="round"/></svg>
<span class="t" style="left:1337.0px;top:548.5px;font-size:18.51px;-webkit-text-stroke:0.56px #10161f;color:#10161f;transform:scaleX(1.0613);">Oregon</span>
<svg style="left:1408.8px;top:550.1px" width="24" height="15.6" viewBox="0 0 24 16"><rect width="24" height="16" fill="#fff"/><rect y="0.000" width="24" height="1.15" fill="#f23a48"/><rect y="2.475" width="24" height="1.15" fill="#f23a48"/><rect y="4.950" width="24" height="1.15" fill="#f23a48"/><rect y="7.425" width="24" height="1.15" fill="#f23a48"/><rect y="9.900" width="24" height="1.15" fill="#f23a48"/><rect y="12.375" width="24" height="1.15" fill="#f23a48"/><rect y="14.850" width="24" height="1.15" fill="#f23a48"/><rect width="10.6" height="8.6" fill="#4a55a0"/><path d="M1 1.5h8.6M1 3.3h8.6M1 5.1h8.6M1 6.9h8.6" stroke="#9aa0cc" stroke-width=".7" stroke-dasharray=".8 .9"/></svg>
<svg style="left:1304.9px;top:577.0px" width="20.6" height="20.6" viewBox="-10.3 -10.3 20.6 20.6"><circle cx="0" cy="0" r="9.45" fill="none" stroke="#2a4963" stroke-width="1.7"/><path d="M0 -4.944V0.824L3.708 2.266" fill="none" stroke="#2a4963" stroke-width="1.7" stroke-linecap="round" stroke-linejoin="round"/></svg>
<span class="t" style="left:1337.3px;top:579.1px;font-size:16.12px;color:#1d2a3a;transform:scaleX(1.0204);">2.74</span>
<span class="t" style="left:1373.5px;top:581.9px;font-size:12.79px;color:#1d2a3a;">s</span>
<span class="t" style="left:1583.0px;top:547.6px;font-size:16.12px;color:#46637e;transform:scaleX(1.0446);">Mar 04 16:27:52 (UTC-8)</span>
<div class="abs" style="left:1582.2px;top:563.6px;width:189.6px;height:0;border-top:1.7px dotted #6a869f"></div>
<svg style="left:1304.9px;top:634.0px" width="20.6" height="20.6" viewBox="-10.3 -10.3 20.6 20.6"><circle cx="0" cy="0" r="10.3" fill="#f6232e"/><path d="M-3.3 -3.3L3.3 3.3M3.3 -3.3L-3.3 3.3" stroke="#fff" stroke-width="1.6" stroke-linecap="round"/></svg>
<span class="t" style="left:1337.0px;top:634.9px;font-size:18.51px;-webkit-text-stroke:0.56px #10161f;color:#10161f;transform:scaleX(1.0706);">Singapore</span>
<svg style="left:1433.6px;top:636.5px" width="24" height="15.6" viewBox="0 0 24 16"><rect x=".4" y=".4" width="23.2" height="15.2" fill="#fff" stroke="#e9eaee" stroke-width=".8"/><rect width="24" height="8" fill="#f5364a"/><circle cx="5.4" cy="4" r="2.5" fill="#fff"/><circle cx="6.3" cy="4" r="2.1" fill="#f5364a"/><circle cx="7.4" cy="4" r="1.1" fill="#fbb" /></svg>
<svg style="left:1304.9px;top:663.4px" width="20.6" height="20.6" viewBox="-10.3 -10.3 20.6 20.6"><circle cx="0" cy="0" r="9.45" fill="none" stroke="#2a4963" stroke-width="1.7"/><path d="M0 -4.944V0.824L3.708 2.266" fill="none" stroke="#2a4963" stroke-width="1.7" stroke-linecap="round" stroke-linejoin="round"/></svg>
<span class="t" style="left:1337.3px;top:665.5px;font-size:16.12px;color:#1d2a3a;transform:scaleX(1.0204);">3.67</span>
<span class="t" style="left:1373.5px;top:668.3px;font-size:12.79px;color:#1d2a3a;">s</span>
<span class="t" style="left:1585.5px;top:634.0px;font-size:16.12px;color:#46637e;transform:scaleX(1.0307);">Mar 04 16:27:51 (UTC-8)</span>
<div class="abs" style="left:1584.7px;top:650.0px;width:187.1px;height:0;border-top:1.7px dotted #6a869f"></div>
<svg style="left:1304.9px;top:720.4px" width="20.6" height="20.6" viewBox="-10.3 -10.3 20.6 20.6"><circle cx="0" cy="0" r="10.3" fill="#f6232e"/><path d="M-3.3 -3.3L3.3 3.3M3.3 -3.3L-3.3 3.3" stroke="#fff" stroke-width="1.6" stroke-linecap="round"/></svg>
<span class="t" style="left:1337.0px;top:721.3px;font-size:18.51px;-webkit-text-stroke:0.56px #10161f;color:#10161f;transform:scaleX(1.0586);">Bahrain</span>
<svg style="left:1410.8px;top:722.9px" width="24" height="15.6" viewBox="0 0 24 16"><rect x=".4" y=".4" width="23.2" height="15.2" fill="#fff" stroke="#eeeef1" stroke-width=".8"/><rect x="8.6" width="15.4" height="16" fill="#f7414e"/><rect x="7.6" width="1.4" height="16" fill="#fbb0b6"/></svg>
<svg style="left:1304.9px;top:749.8px" width="20.6" height="20.6" viewBox="-10.3 -10.3 20.6 20.6"><circle cx="0" cy="0" r="9.45" fill="none" stroke="#2a4963" stroke-width="1.7"/><path d="M0 -4.944V0.824L3.708 2.266" fill="none" stroke="#2a4963" stroke-width="1.7" stroke-linecap="round" stroke-linejoin="round"/></svg>
<span class="t" style="left:1337.3px;top:751.9px;font-size:16.12px;color:#1d2a3a;transform:scaleX(0.9407);">3.13</span>
<span class="t" style="left:1371.0px;top:754.7px;font-size:12.79px;color:#1d2a3a;">s</span>
<span class="t" style="left:1585.5px;top:720.4px;font-size:16.12px;color:#46637e;transform:scaleX(1.0307);">Mar 04 16:27:51 (UTC-8)</span>
<div class="abs" style="left:1584.7px;top:736.4px;width:187.1px;height:0;border-top:1.7px dotted #6a869f"></div>
<svg style="left:1304.9px;top:806.8px" width="20.6" height="20.6" viewBox="-10.3 -10.3 20.6 20.6"><circle cx="0" cy="0" r="10.3" fill="#12d060"/><path d="M-4.12 0.392381L-1.37333 3.13905L4.31619 -2.74667" fill="none" stroke="#fff" stroke-width="1.6" stroke-linecap="round" stroke-linejoin="round"/></svg>
<span class="t" style="left:1337.0px;top:807.7px;font-size:18.51px;-webkit-text-stroke:0.56px #10161f;color:#10161f;transform:scaleX(1.0788);">Mumbai</span>
<svg style="left:1414.3px;top:809.3px" width="24" height="15.6" viewBox="0 0 24 16"><rect width="24" height="5.4" fill="#ff9f3a"/><rect y="5.4" width="24" height="5.2" fill="#f5f5f5"/><rect y="10.6" width="24" height="5.4" fill="#27963a"/><circle cx="12" cy="8" r="2" fill="#5a5fb5"/></svg>
<svg style="left:1304.9px;top:836.2px" width="20.6" height="20.6" viewBox="-10.3 -10.3 20.6 20.6"><circle cx="0" cy="0" r="9.45" fill="none" stroke="#2a4963" stroke-width="1.7"/><path d="M0 -4.944V0.824L3.708 2.266" fill="none" stroke="#2a4963" stroke-width="1.7" stroke-linecap="round" stroke-linejoin="round"/></svg>
<span class="t" style="left:1337.3px;top:838.3px;font-size:16.12px;color:#1d2a3a;transform:scaleX(1.0204);">2.68</span>
<span class="t" style="left:1373.5px;top:841.1px;font-size:12.79px;color:#1d2a3a;">s</span>
<span class="t" style="left:1582.5px;top:806.8px;font-size:16.12px;color:#46637e;transform:scaleX(1.0474);">Mar 04 16:27:50 (UTC-8)</span>
<div class="abs" style="left:1581.7px;top:822.8px;width:190.1px;height:0;border-top:1.7px dotted #6a869f"></div>
<svg style="left:1304.9px;top:893.2px" width="20.6" height="20.6" viewBox="-10.3 -10.3 20.6 20.6"><circle cx="0" cy="0" r="10.3" fill="#12d060"/><path d="M-4.12 0.392381L-1.37333 3.13905L4.31619 -2.74667" fill="none" stroke="#fff" stroke-width="1.6" stroke-linecap="round" stroke-linejoin="round"/></svg>
<span class="t" style="left:1337.0px;top:894.1px;font-size:18.51px;-webkit-text-stroke:0.56px #10161f;color:#10161f;transform:scaleX(1.0609);">N. California</span>
<svg style="left:1451.3px;top:895.7px" width="24" height="15.6" viewBox="0 0 24 16"><rect width="24" height="16" fill="#fff"/><rect y="0.000" width="24" height="1.15" fill="#f23a48"/><rect y="2.475" width="24" height="1.15" fill="#f23a48"/><rect y="4.950" width="24" height="1.15" fill="#f23a48"/><rect y="7.425" width="24" height="1.15" fill="#f23a48"/><rect y="9.900" width="24" height="1.15" fill="#f23a48"/><rect y="12.375" width="24" height="1.15" fill="#f23a48"/><rect y="14.850" width="24" height="1.15" fill="#f23a48"/><rect width="10.6" height="8.6" fill="#4a55a0"/><path d="M1 1.5h8.6M1 3.3h8.6M1 5.1h8.6M1 6.9h8.6" stroke="#9aa0cc" stroke-width=".7" stroke-dasharray=".8 .9"/></svg>
<svg style="left:1304.9px;top:922.6px" width="20.6" height="20.6" viewBox="-10.3 -10.3 20.6 20.6"><circle cx="0" cy="0" r="9.45" fill="none" stroke="#2a4963" stroke-width="1.7"/><path d="M0 -4.944V0.824L3.708 2.266" fill="none" stroke="#2a4963" stroke-width="1.7" stroke-linecap="round" stroke-linejoin="round"/></svg>
<span class="t" style="left:1337.3px;top:924.7px;font-size:16.12px;color:#1d2a3a;transform:scaleX(1.0204);">2.66</span>
<span class="t" style="left:1373.5px;top:927.5px;font-size:12.79px;color:#1d2a3a;">s</span>
<span class="t" style="left:1582.5px;top:893.2px;font-size:16.12px;color:#46637e;transform:scaleX(1.0474);">Mar 04 16:27:50 (UTC-8)</span>
<div class="abs" style="left:1581.7px;top:909.2px;width:190.1px;height:0;border-top:1.7px dotted #6a869f"></div>
<svg style="left:1304.9px;top:979.6px" width="20.6" height="20.6" viewBox="-10.3 -10.3 20.6 20.6"><circle cx="0" cy="0" r="10.3" fill="#f6232e"/><path d="M-3.3 -3.3L3.3 3.3M3.3 -3.3L-3.3 3.3" stroke="#fff" stroke-width="1.6" stroke-linecap="round"/></svg>
<span class="t" style="left:1337.0px;top:980.5px;font-size:18.51px;-webkit-text-stroke:0.56px #10161f;color:#10161f;transform:scaleX(1.0380);">Osaka</span>
<svg style="left:1398.8px;top:982.1px" width="24" height="15.6" viewBox="0 0 24 16"><rect x=".5" y=".5" width="23" height="15" fill="#fff" stroke="#e9eaee"/><circle cx="12" cy="8" r="4.3" fill="#f5364a"/></svg>
<svg style="left:1304.9px;top:1009.0px" width="20.6" height="20.6" viewBox="-10.3 -10.3 20.6 20.6"><circle cx="0" cy="0" r="9.45" fill="none" stroke="#2a4963" stroke-width="1.7"/><path d="M0 -4.944V0.824L3.708 2.266" fill="none" stroke="#2a4963" stroke-width="1.7" stroke-linecap="round" stroke-linejoin="round"/></svg>
<span class="t" style="left:1337.3px;top:1011.1px;font-size:16.12px;color:#1d2a3a;transform:scaleX(0.9596);">3.2</span>
<span class="t" style="left:1363.0px;top:1013.9px;font-size:12.79px;color:#1d2a3a;">s</span>
<span class="t" style="left:1581.5px;top:979.6px;font-size:16.12px;color:#46637e;transform:scaleX(1.0530);">Mar 04 16:26:50 (UTC-8)</span>
<div class="abs" style="left:1580.7px;top:995.6px;width:191.1px;height:0;border-top:1.7px dotted #6a869f"></div>
<svg style="left:1304.9px;top:1066.0px" width="20.6" height="20.6" viewBox="-10.3 -10.3 20.6 20.6"><circle cx="0" cy="0" r="10.3" fill="#12d060"/><path d="M-4.12 0.392381L-1.37333 3.13905L4.31619 -2.74667" fill="none" stroke="#fff" stroke-width="1.6" stroke-linecap="round" stroke-linejoin="round"/></svg>
<span class="t" style="left:1337.0px;top:1066.9px;font-size:18.51px;-webkit-text-stroke:0.56px #10161f;color:#10161f;transform:scaleX(1.0788);">Mumbai</span>
<svg style="left:1414.3px;top:1068.5px" width="24" height="15.6" viewBox="0 0 24 16"><rect width="24" height="5.4" fill="#ff9f3a"/><rect y="5.4" width="24" height="5.2" fill="#f5f5f5"/><rect y="10.6" width="24" height="5.4" fill="#27963a"/><circle cx="12" cy="8" r="2" fill="#5a5fb5"/></svg>
<svg style="left:1304.9px;top:1095.4px" width="20.6" height="20.6" viewBox="-10.3 -10.3 20.6 20.6"><circle cx="0" cy="0" r="9.45" fill="none" stroke="#2a4963" stroke-width="1.7"/><path d="M0 -4.944V0.824L3.708 2.266" fill="none" stroke="#2a4963" stroke-width="1.7" stroke-linecap="round" stroke-linejoin="round"/></svg>
<span class="t" style="left:1337.3px;top:1097.5px;font-size:16.12px;color:#1d2a3a;transform:scaleX(1.0204);">2.63</span>
<span class="t" style="left:1373.5px;top:1100.3px;font-size:12.79px;color:#1d2a3a;">s</span>
<span class="t" style="left:1581.5px;top:1066.0px;font-size:16.12px;color:#46637e;transform:scaleX(1.0530);">Mar 04 16:26:50 (UTC-8)</span>
<div class="abs" style="left:1580.7px;top:1082.0px;width:191.1px;height:0;border-top:1.7px dotted #6a869f"></div>
<svg style="left:1304.9px;top:1152.4px" width="20.6" height="20.6" viewBox="-10.3 -10.3 20.6 20.6"><circle cx="0" cy="0" r="10.3" fill="#f6232e"/><path d="M-3.3 -3.3L3.3 3.3M3.3 -3.3L-3.3 3.3" stroke="#fff" stroke-width="1.6" stroke-linecap="round"/></svg>
<span class="t" style="left:1337.0px;top:1153.3px;font-size:18.51px;-webkit-text-stroke:0.56px #10161f;color:#10161f;transform:scaleX(1.0706);">Singapore</span>
<svg style="left:1433.6px;top:1154.9px" width="24" height="15.6" viewBox="0 0 24 16"><rect x=".4" y=".4" width="23.2" height="15.2" fill="#fff" stroke="#e9eaee" stroke-width=".8"/><rect width="24" height="8" fill="#f5364a"/><circle cx="5.4" cy="4" r="2.5" fill="#fff"/><circle cx="6.3" cy="4" r="2.1" fill="#f5364a"/><circle cx="7.4" cy="4" r="1.1" fill="#fbb" /></svg>
<svg style="left:1304.9px;top:1181.8px" width="20.6" height="20.6" viewBox="-10.3 -10.3 20.6 20.6"><circle cx="0" cy="0" r="9.45" fill="none" stroke="#2a4963" stroke-width="1.7"/><path d="M0 -4.944V0.824L3.708 2.266" fill="none" stroke="#2a4963" stroke-width="1.7" stroke-linecap="round" stroke-linejoin="round"/></svg>
<span class="t" style="left:1337.3px;top:1183.9px;font-size:16.12px;color:#1d2a3a;letter-spacing:-0.559px;transform:scaleX(0.9300);">3.11</span>
<span class="t" style="left:1368.0px;top:1186.7px;font-size:12.79px;color:#1d2a3a;">s</span>
<span class="t" style="left:1581.5px;top:1152.4px;font-size:16.12px;color:#46637e;transform:scaleX(1.0530);">Mar 04 16:26:50 (UTC-8)</span>
<div class="abs" style="left:1580.7px;top:1168.4px;width:191.1px;height:0;border-top:1.7px dotted #6a869f"></div>
</body></html>
